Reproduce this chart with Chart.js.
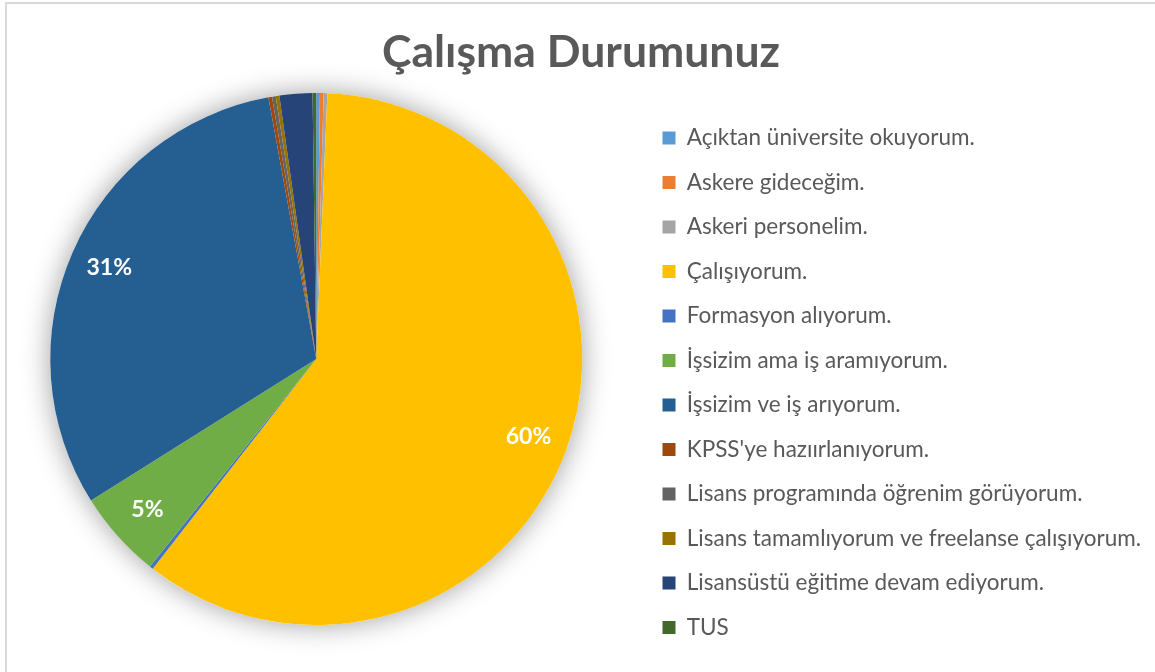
<!DOCTYPE html>
<html>
<head>
<meta charset="utf-8">
<script src="https://cdn.jsdelivr.net/npm/chart.js@4.4.1/dist/chart.umd.min.js"></script>
<style>
  html, body { margin: 0; padding: 0; background: #fff; overflow: hidden; }
  #wrap { position: absolute; left: -8px; top: 0; width: 1178px; height: 672px; }
  #frame { position: absolute; left: 5px; top: 2px; width: 1200px; height: 700px;
           border-top: 2px solid #d9d9d9; border-left: 2px solid #d9d9d9; pointer-events: none; }
</style>
</head>
<body>
<div id="wrap"><canvas id="chart" width="1178" height="672"></canvas></div>
<div id="frame"></div>
<script>
'use strict';

const categories = [
    'Açıktan üniversite okuyorum.',
    'Askere gideceğim.',
    'Askeri personelim.',
    'Çalışıyorum.',
    'Formasyon alıyorum.',
    'İşsizim ama iş aramıyorum.',
    'İşsizim ve iş arıyorum.',
    "KPSS'ye hazıırlanıyorum.",
    'Lisans programında öğrenim görüyorum.',
    'Lisans tamamlıyorum ve freelanse çalışıyorum.',
    'Lisansüstü eğitime devam ediyorum.',
    'TUS'
];
const responses = [1, 1, 1, 270, 1, 24, 140, 1, 1, 1, 9, 1];
const sliceColors = [
    '#5B9BD5', '#ED7D31', '#A5A5A5', '#FFC000', '#4472C4', '#70AD47',
    '#255E91', '#9E480E', '#636363', '#997300', '#264478', '#43682B'
];
const chartTitle = 'Çalışma Durumunuz';

const FONT = 'Lato';
const legendFontSize = 22.5;
const legendPad = 22;
const legendBox = 13;
const canvasW = 1178;
const legendLeft = 648.5;   // where the legend starts inside the canvas

// give the legend a fixed width so the pie sits left of it and the title stays centred
const fixedLegend = {
    id: 'fixedLegend',
    beforeLayout(chart) {
        const lg = chart.legend;
        if (!lg || lg._fixed) return;
        const fit = lg.fit.bind(lg);
        lg.fit = function () {
            fit();
            this.width = canvasW - legendLeft;
        };
        lg._fixed = true;
    }
};

// soft shadow under the pie, drawn once as a disc so slices don't shade each other
const pieShadow = {
    id: 'pieShadow',
    beforeDatasetsDraw(chart) {
        const arc = chart.getDatasetMeta(0).data[0];
        if (!arc) return;
        const ctx = chart.ctx;
        ctx.save();
        ctx.shadowColor = 'rgba(0,0,0,0.38)';
        ctx.shadowBlur = 28;
        ctx.fillStyle = '#fff';
        ctx.beginPath();
        ctx.arc(arc.x, arc.y, arc.outerRadius, 0, Math.PI * 2);
        ctx.fill();
        ctx.restore();
    }
};

// percent labels on the big slices
const pieLabels = {
    id: 'pieLabels',
    afterDatasetsDraw(chart) {
        const ctx = chart.ctx;
        const total = responses.reduce((a, b) => a + b, 0);
        chart.getDatasetMeta(0).data.forEach((arc, i) => {
            const pct = responses[i] / total * 100;
            if (pct < 3) return;
            const p = arc.getProps(['x', 'y', 'startAngle', 'endAngle', 'outerRadius'], true);
            const mid = (p.startAngle + p.endAngle) / 2;
            const r = p.outerRadius * 0.85;
            ctx.save();
            ctx.font = `bold 23px ${FONT}`;
            ctx.fillStyle = '#fff';
            ctx.textAlign = 'center';
            ctx.textBaseline = 'middle';
            ctx.fillText(Math.round(pct) + '%', p.x + Math.cos(mid) * r, p.y + Math.sin(mid) * r);
            ctx.restore();
        });
    }
};

new Chart(document.getElementById('chart'), {
    type: 'pie',
    data: {
        labels: categories,
        datasets: [{
            data: responses,
            backgroundColor: sliceColors,
            borderWidth: 0
        }]
    },
    options: {
        responsive: false,
        animation: false,
        layout: { padding: 0 },
        plugins: {
            title: {
                display: true,
                text: chartTitle,
                color: '#595959',
                font: { family: FONT, size: 44.5, weight: 'bold' },
                padding: { top: 26, bottom: 13.6 }
            },
            // empty strip under the pie so it sits where the reference has it
            subtitle: {
                display: true,
                text: '',
                position: 'bottom',
                fullSize: false,
                font: { size: 10 },
                padding: { top: 35, bottom: 0 }
            },
            legend: {
                position: 'right',
                align: 'start',
                fullSize: true,
                title: { display: true, text: '', font: { size: 10 }, padding: { top: 92.75, bottom: 0 } },
                labels: {
                    color: '#595959',
                    font: { family: FONT, size: legendFontSize },
                    boxWidth: legendBox,
                    boxHeight: legendBox,
                    padding: legendPad
                }
            },
            tooltip: { enabled: false }
        }
    },
    plugins: [fixedLegend, pieShadow, pieLabels]
});
</script>
</body>
</html>
